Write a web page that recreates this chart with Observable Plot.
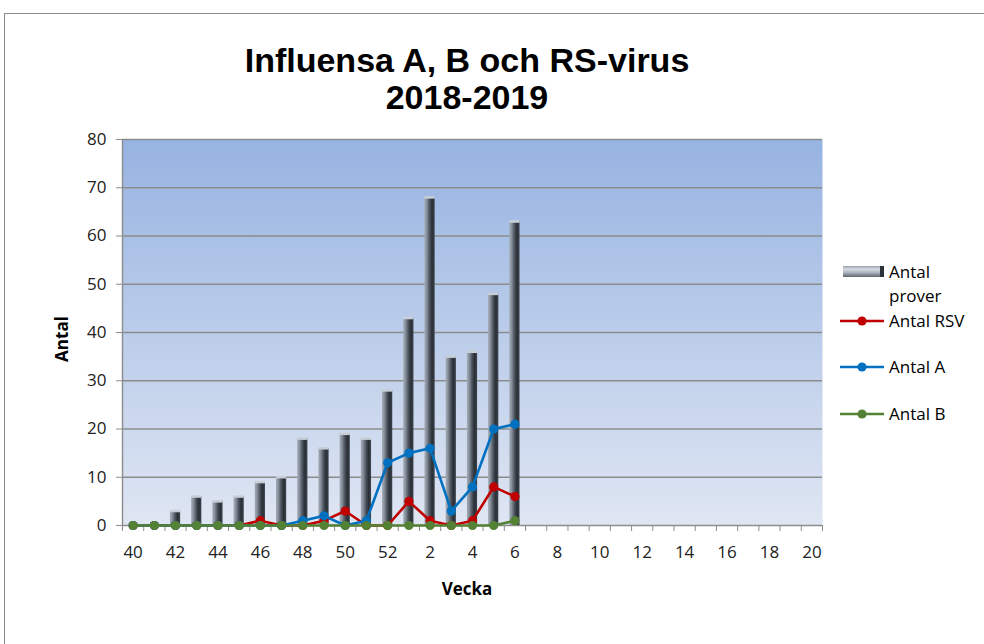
<!DOCTYPE html>
<html><head><meta charset="utf-8">
<script src="https://cdn.jsdelivr.net/npm/d3@7"></script>
<script src="https://cdn.jsdelivr.net/npm/@observablehq/plot@0.6"></script>
<style>
body{margin:0;background:#fff;}
#wrap{position:relative;width:984px;height:644px;overflow:hidden;}
#border{position:absolute;left:4px;top:13px;width:1100px;height:800px;border:1px solid #8c8c8c;box-sizing:border-box;}
#wrap svg{position:absolute;left:0;top:0;}
</style></head><body><div id="wrap"><div id="border"></div></div>
<script>
// Week labels on the x axis (season 2018-2019)
const weekLabels = ["40","41","42","43","44","45","46","47","48","49","50","51","52",
  "1","2","3","4","5","6","7","8","9","10","11","12","13","14","15","16","17","18","19","20"];
// Series (weeks 40 .. 6)
const antalProver = [0,0,3,6,5,6,9,10,18,16,19,18,28,43,68,35,36,48,63];
const antalRSV    = [0,0,0,0,0,0,1,0,0,1,3,0,0,5,1,0,1,8,6];
const antalA      = [0,0,0,0,0,0,0,0,1,2,0,1,13,15,16,3,8,20,21];
const antalB      = [0,0,0,0,0,0,0,0,0,0,0,0,0,0,0,0,0,0,1];
const yTicks = [0,10,20,30,40,50,60,70,80];

const rows = antalProver.map((v, i) => ({i, week: weekLabels[i], prover: v, rsv: antalRSV[i], a: antalA[i], b: antalB[i]}));
const series = [
  {key: "rsv", name: "Antal RSV", color: "#c00000"},
  {key: "a", name: "Antal A", color: "#0070c0"},
  {key: "b", name: "Antal B", color: "#548235"}
];
const half = 0.24;
const grey = "#8c8c8c";

const lineMarks = series.flatMap(s => [
  Plot.line(rows, {x: "i", y: s.key, stroke: s.color, strokeWidth: 2.6}),
  Plot.dot(rows, {x: "i", y: s.key, fill: s.color, r: 4.6})
]);

const plot = Plot.plot({
  width: 984, height: 644,
  marginLeft: 122, marginRight: 162, marginTop: 139, marginBottom: 119,
  style: {fontFamily: "'Open Sans', sans-serif", fontSize: "16px", color: "#222", background: "transparent", overflow: "visible"},
  x: {type: "linear", domain: [-0.5, weekLabels.length - 0.5]},
  y: {domain: [0, 80]},
  marks: [
    Plot.frame({fill: "url(#bgGrad)", stroke: null}),
    Plot.ruleY(yTicks, {y: d => d, stroke: grey, strokeWidth: 1.4}),
    Plot.ruleX([-0.5], {stroke: grey, strokeWidth: 1.4}),
    Plot.axisY({ticks: yTicks, tickSize: 6, tickPadding: 10, label: null, stroke: grey, fontSize: 17}),
    Plot.axisX({ticks: d3.range(0, weekLabels.length, 2), tickFormat: i => weekLabels[i], tickSize: 0, tickPadding: 20, label: null, fontSize: 17}),
    Plot.axisX({ticks: d3.range(-0.5, weekLabels.length, 1), tickFormat: () => "", tickSize: 6, stroke: grey, label: null}),
    Plot.rectY(rows.filter(d => d.prover > 0), {x1: d => d.i - half, x2: d => d.i + half, y: "prover", fill: "url(#barGrad)"}),
    Plot.ruleY(rows.filter(d => d.prover > 0), {x1: d => d.i - half, x2: d => d.i + half, y: "prover", stroke: "#c9cfd8", strokeWidth: 2.5}),
    ...lineMarks
  ]
});

const svg = d3.select(plot);
const defs = svg.insert("defs", ":first-child");
const bg = defs.append("linearGradient").attr("id", "bgGrad").attr("x1", 0).attr("y1", 0).attr("x2", 0).attr("y2", 1);
bg.append("stop").attr("offset", 0).attr("stop-color", "#97b3e1");
bg.append("stop").attr("offset", 1).attr("stop-color", "#dfe6f3");
const bar = defs.append("linearGradient").attr("id", "barGrad").attr("x1", 0).attr("y1", 0).attr("x2", 1).attr("y2", 0);
[[0, "#a3abb5"], [0.2, "#8a949f"], [0.5, "#4c545e"], [0.75, "#2a2f36"], [1, "#3d444d"]].forEach(([o, c]) =>
  bar.append("stop").attr("offset", o).attr("stop-color", c));
const barH = defs.append("linearGradient").attr("id", "barGradH").attr("x1", 0).attr("y1", 0).attr("x2", 0).attr("y2", 1);
[[0, "#9aa3ae"], [0.3, "#d6dbe2"], [0.6, "#aab3bf"], [1, "#5d6670"]].forEach(([o, c]) =>
  barH.append("stop").attr("offset", o).attr("stop-color", c));

// Title
const title = svg.append("text").attr("text-anchor", "middle")
  .style("font-family", "'Liberation Sans', Arial, sans-serif").style("font-weight", "bold").style("font-size", "34px").attr("fill", "#000");
title.append("tspan").attr("x", 467).attr("y", 72).text("Influensa A, B och RS-virus");
title.append("tspan").attr("x", 467).attr("y", 109).text("2018-2019");

// Axis titles
svg.append("text").attr("transform", "translate(68,339) rotate(-90)").attr("text-anchor", "middle")
  .style("font-weight", "bold").style("font-size", "17px").attr("fill", "#000").text("Antal");
svg.append("text").attr("x", 467).attr("y", 595).attr("text-anchor", "middle")
  .style("font-weight", "bold").style("font-size", "17px").attr("fill", "#000").text("Vecka");

// Legend
const lg = svg.append("g").attr("text-anchor", "start").style("font-size", "17px").attr("fill", "#000");
lg.append("rect").attr("x", 843).attr("y", 266).attr("width", 40).attr("height", 11).attr("fill", "url(#barGradH)");
lg.append("rect").attr("x", 880).attr("y", 266).attr("width", 4).attr("height", 11).attr("fill", "#2d333a");
lg.append("text").attr("x", 889).attr("y", 272).attr("dy", "0.35em").text("Antal");
lg.append("text").attr("x", 889).attr("y", 296).attr("dy", "0.35em").text("prover");
const legY = [321, 367, 414];
series.forEach((s, k) => {
  lg.append("line").attr("x1", 840).attr("x2", 884).attr("y1", legY[k]).attr("y2", legY[k]).attr("stroke", s.color).attr("stroke-width", 2.6);
  lg.append("circle").attr("cx", 862).attr("cy", legY[k]).attr("r", 4.6).attr("fill", s.color);
  lg.append("text").attr("x", 889).attr("y", legY[k]).attr("dy", "0.35em").text(s.name);
});

document.getElementById("wrap").appendChild(plot);
</script>
</body></html>
